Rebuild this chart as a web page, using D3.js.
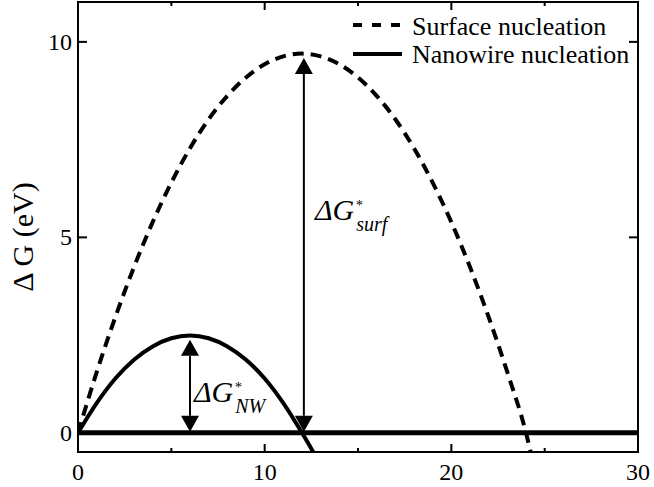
<!DOCTYPE html>
<html>
<head>
<meta charset="utf-8">
<script src="https://cdn.jsdelivr.net/npm/d3@7"></script>
<style>
  body { margin: 0; background: #fff; }
  svg text { font-family: 'Liberation Serif', 'Times New Roman', Times, 'DejaVu Serif', serif; }
</style>
</head>
<body>
<svg id="chart" width="654" height="487"></svg>
<script>
// values
var surfX = [0, 1, 2, 3, 4, 5, 6, 7, 8, 9, 10, 11, 12, 13, 14, 15, 16, 17, 18, 19, 20, 21, 22, 23, 24, 24.25];
var surfG = [0, 1.55, 2.96, 4.24, 5.39, 6.40, 7.28, 8.02, 8.62, 9.09, 9.43, 9.63, 9.70, 9.63, 9.43, 9.09, 8.62, 8.02, 7.28, 6.40, 5.39, 4.24, 2.96, 1.55, 0, -0.49];
var nwX = [0, 1, 2, 3, 4, 5, 6, 7, 8, 9, 10, 11, 12, 12.6];
var nwG = [0, 0.76, 1.39, 1.87, 2.21, 2.42, 2.49, 2.42, 2.21, 1.87, 1.39, 0.76, 0, -0.49];
var baseX = [0, 30];
var baseG = [0, 0];
var xTicks = [0, 10, 20, 30];
var xMinor = [5, 15, 25];
var yTicks = [0, 5, 10];
// barrier arrows: x position, top tip, bottom tip
var arrowX = [6, 12.1];
var arrowTop = [2.38, 9.59];
var arrowBot = [0.03, 0.03];
var legendNames = ["Surface nucleation", "Nanowire nucleation"];

var svg = d3.select("#chart"),
    margin = {top: 2, right: 16, bottom: 35, left: 78},
    width = +svg.attr("width"),
    height = +svg.attr("height");

var x = d3.scaleLinear().domain([0, 30]).range([margin.left, width - margin.right]);
var y = d3.scaleLinear().domain([-0.49, 11.02]).range([height - margin.bottom, margin.top]);

svg.append("defs").append("clipPath").attr("id", "clip")
  .append("rect")
  .attr("x", x(0)).attr("y", y(11.02))
  .attr("width", x(30) - x(0)).attr("height", y(-0.49) - y(11.02));

var line = d3.line()
  .curve(d3.curveMonotoneX)
  .x(d => x(d[0]))
  .y(d => y(d[1]));

var plot = svg.append("g").attr("clip-path", "url(#clip)");

// zero line
plot.append("path")
  .attr("d", line(d3.zip(baseX, baseG)))
  .attr("fill", "none").attr("stroke", "#000").attr("stroke-width", 5);

// surface nucleation (dashed)
plot.append("path")
  .attr("d", line(d3.zip(surfX, surfG)))
  .attr("fill", "none").attr("stroke", "#000").attr("stroke-width", 4)
  .attr("stroke-dasharray", "11,7");

// nanowire nucleation (solid)
plot.append("path")
  .attr("d", line(d3.zip(nwX, nwG)))
  .attr("fill", "none").attr("stroke", "#000").attr("stroke-width", 4);

// arrows
arrowX.forEach(function(ax, i) {
  var px = x(ax), t = y(arrowTop[i]), b = y(arrowBot[i]), hw = 9, hh = 16;
  svg.append("line")
    .attr("x1", px).attr("x2", px).attr("y1", t + hh).attr("y2", b - hh)
    .attr("stroke", "#000").attr("stroke-width", 2);
  svg.append("path")
    .attr("d", `M${px},${t}L${px - hw},${t + hh}L${px + hw},${t + hh}Z`)
    .attr("fill", "#000");
  svg.append("path")
    .attr("d", `M${px},${b}L${px - hw},${b - hh}L${px + hw},${b - hh}Z`)
    .attr("fill", "#000");
});

// frame
svg.append("rect")
  .attr("x", x(0)).attr("y", y(11.02))
  .attr("width", x(30) - x(0)).attr("height", y(-0.49) - y(11.02))
  .attr("fill", "none").attr("stroke", "#000").attr("stroke-width", 2);

// ticks (inward on all sides)
var tk = svg.append("g").attr("stroke", "#000").attr("stroke-width", 2);
xTicks.concat(xMinor).forEach(function(v) {
  var len = xTicks.includes(v) ? 8 : 4;
  tk.append("line").attr("x1", x(v)).attr("x2", x(v)).attr("y1", y(-0.49)).attr("y2", y(-0.49) - len);
  tk.append("line").attr("x1", x(v)).attr("x2", x(v)).attr("y1", y(11.02)).attr("y2", y(11.02) + len);
});
yTicks.forEach(function(v) {
  tk.append("line").attr("x1", x(0)).attr("x2", x(0) + 9).attr("y1", y(v)).attr("y2", y(v));
  tk.append("line").attr("x1", x(30)).attr("x2", x(30) - 9).attr("y1", y(v)).attr("y2", y(v));
});

// tick labels
svg.selectAll(".xl").data(xTicks).enter().append("text")
  .attr("x", d => x(d)).attr("y", 480)
  .attr("text-anchor", "middle").attr("font-size", 24)
  .text(d => d);
svg.selectAll(".yl").data(yTicks).enter().append("text")
  .attr("x", x(0) - 6).attr("y", d => y(d) + 8)
  .attr("text-anchor", "end").attr("font-size", 24)
  .text(d => d);

// y axis title
svg.append("text")
  .attr("transform", "translate(33," + 237 + ") rotate(-90)")
  .attr("text-anchor", "middle").attr("font-size", 30)
  .text("\u0394 G (eV)");

// annotations
function barrierLabel(px, py, sub) {
  var main = svg.append("text").attr("x", px).attr("y", py)
    .attr("font-style", "italic").attr("font-size", 30).text("\u0394G");
  var end = px + main.node().getComputedTextLength();
  svg.append("text").attr("x", end + 1).attr("y", py - 10)
    .attr("font-style", "italic").attr("font-size", 14).text("*");
  svg.append("text").attr("x", end + 2).attr("y", py + 11)
    .attr("font-style", "italic").attr("font-size", 20).text(sub);
}
barrierLabel(315, 220, "surf");
barrierLabel(194, 402, "NW");

// legend
var lg = svg.append("g");
lg.append("line").attr("x1", 353).attr("x2", 402).attr("y1", 25).attr("y2", 25)
  .attr("stroke", "#000").attr("stroke-width", 4).attr("stroke-dasharray", "9,10");
lg.append("line").attr("x1", 353).attr("x2", 402).attr("y1", 54).attr("y2", 54)
  .attr("stroke", "#000").attr("stroke-width", 4);
lg.selectAll("text").data(legendNames).enter().append("text")
  .attr("x", 412).attr("y", (d, i) => 35 + i * 28)
  .attr("font-size", 26)
  .text(d => d);
</script>
</body>
</html>
